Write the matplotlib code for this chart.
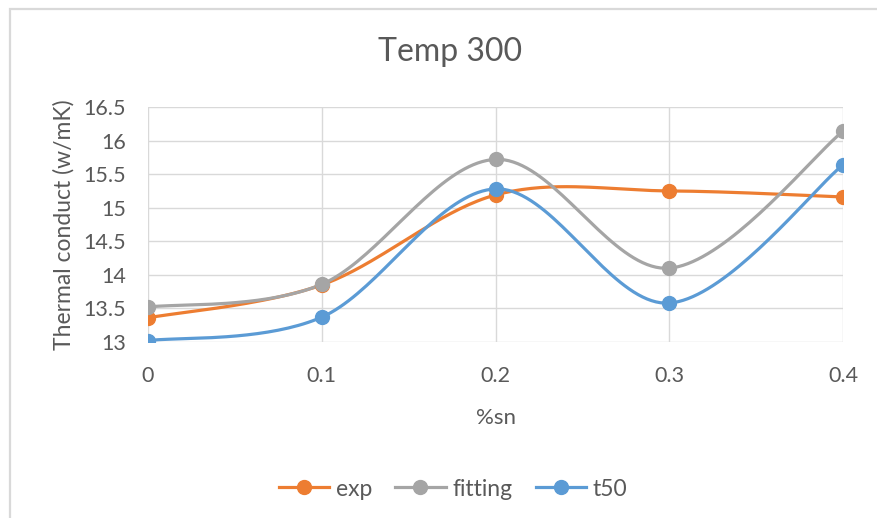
import numpy as np
import matplotlib.pyplot as plt
from matplotlib.patches import Rectangle

sn = [0, 0.1, 0.2, 0.3, 0.4]
exp_vals = [13.36, 13.85, 15.19, 15.25, 15.16]
fitting_vals = [13.52, 13.86, 15.72, 14.10, 16.14]
t50_vals = [13.02, 13.37, 15.28, 13.58, 15.64]
yticks = [13, 13.5, 14, 14.5, 15, 15.5, 16, 16.5]

series = [("exp", exp_vals, "#ED7D31"),
          ("fitting", fitting_vals, "#A5A5A5"),
          ("t50", t50_vals, "#5B9BD5")]

TXT = "#595959"
GRID = "#D9D9D9"
plt.rcParams['font.family'] = ['Lato', 'DejaVu Sans']


def smooth(x, y, n=40):
    # cubic bezier through the points, tangents from neighbours (tension 1/6)
    x = np.asarray(x, float)
    y = np.asarray(y, float)
    px = np.concatenate([[x[0]], x, [x[-1]]])
    py = np.concatenate([[y[0]], y, [y[-1]]])
    xs, ys = [], []
    t = np.linspace(0, 1, n)
    for i in range(1, len(px) - 2):
        p0 = np.array([px[i], py[i]])
        p3 = np.array([px[i + 1], py[i + 1]])
        p1 = p0 + (np.array([px[i + 1], py[i + 1]]) - np.array([px[i - 1], py[i - 1]])) / 6
        p2 = p3 - (np.array([px[i + 2], py[i + 2]]) - np.array([px[i], py[i]])) / 6
        b = ((1 - t) ** 3)[:, None] * p0 + (3 * (1 - t) ** 2 * t)[:, None] * p1 \
            + (3 * (1 - t) * t ** 2)[:, None] * p2 + (t ** 3)[:, None] * p3
        xs.extend(b[:, 0])
        ys.extend(b[:, 1])
    return xs, ys


fig = plt.figure(figsize=(8.78, 5.18), dpi=100)
# chart frame, only the top and left edges fall inside the image
fig.patches.append(Rectangle((10 / 878, -0.1), 1.0, 1.1 - 9 / 518, transform=fig.transFigure,
                             fill=False, edgecolor=GRID, lw=1.6))
ax = fig.add_axes([0.1686, 0.3398, 0.7916, 0.4536])

for name, vals, col in series:
    sx, sy = smooth(sn, vals)
    ax.plot(sx, sy, color=col, lw=2.3, solid_capstyle='round', zorder=3)
    ax.plot(sn, vals, 'o', color=col, ms=10, zorder=4)
    ax.plot([], [], '-o', color=col, lw=2.3, ms=10, label=name)

ax.set_xlim(0, 0.4)
ax.set_ylim(13, 16.5)
ax.set_xticks(sn)
ax.set_xticklabels(["0", "0.1", "0.2", "0.3", "0.4"])
ax.set_yticks(yticks)
ax.set_yticklabels(["13", "13.5", "14", "14.5", "15", "15.5", "16", "16.5"])
ax.grid(True, color=GRID, lw=1)
ax.set_axisbelow(True)
for s in ax.spines.values():
    s.set_visible(False)
ax.tick_params(length=0, labelsize=15.5, colors=TXT)
ax.tick_params(axis='x', pad=17)
ax.tick_params(axis='y', pad=16)

fig.text(450 / 878, 1 - 52 / 518, "Temp 300", fontsize=23, color=TXT,
         ha='center', va='center')
ax.set_xlabel("%sn", fontsize=16, color=TXT, labelpad=16)
ax.set_ylabel("Thermal conduct (w/mK)", fontsize=16.5, color=TXT, labelpad=6)

fig.legend(loc='center', bbox_to_anchor=(453 / 878, 1 - 489 / 518), ncol=3, frameon=False,
           fontsize=16.5, labelcolor=TXT, handlelength=2.2, columnspacing=1.0,
           handletextpad=0.3)

fig.savefig("out.png", dpi=100)
